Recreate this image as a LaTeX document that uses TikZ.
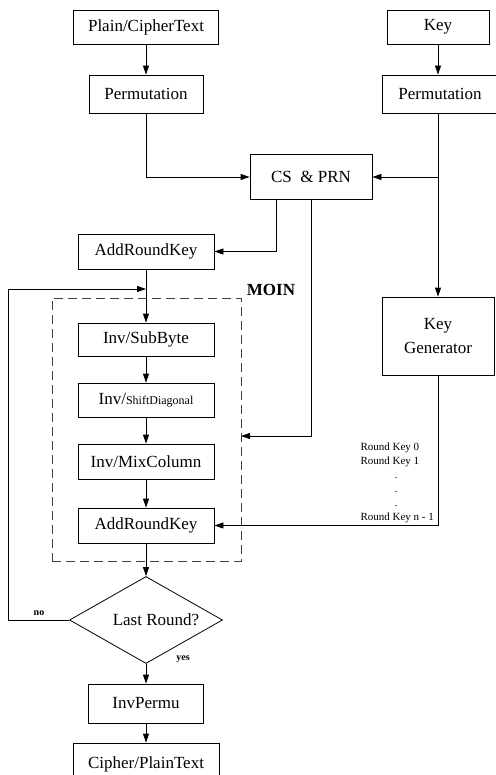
\documentclass[tikz,border=0pt]{standalone}
\usepackage{fontspec}
\setmainfont{Liberation Serif}
\usetikzlibrary{arrows.meta,shapes.geometric}
\begin{document}
\begin{tikzpicture}[x=1pt,y=-1pt,
  box/.style={draw, line width=0.8pt, inner sep=0pt, font=\fontsize{17}{20}\selectfont},
  arr/.style={line width=0.8pt, -{Triangle[length=9pt,width=6pt]}},
  small/.style={font=\fontsize{11}{14}\selectfont},
  tiny/.style={font=\fontsize{10}{12}\selectfont\bfseries},
  dbox/.style={draw=black!75, line width=0.8pt, dash pattern=on 9pt off 5pt, inner sep=0pt}]
\useasboundingbox (0,0) rectangle (495,775);
% boxes
\node[box, minimum width=145pt, minimum height=34pt] (pt) at (146,27) {Plain/CipherText};
\node[box, minimum width=102pt, minimum height=34pt] (key) at (438,27) {Key};
\node[box, minimum width=114pt, minimum height=38pt] (perm1) at (146,94) {Permutation};
\node[box, minimum width=116pt, minimum height=38pt] (perm2) at (440,94) {Permutation};
\node[box, minimum width=122pt, minimum height=45pt] (cs) at (311,177) {CS~~\&~PRN};
\node[box, minimum width=112pt, minimum height=78pt, align=center, font=\fontsize{17}{24}\selectfont] (keygen) at (438,336) {Key\\Generator};
\node[box, minimum width=136pt, minimum height=35pt] (ark1) at (146,251.5) {AddRoundKey};
\node[dbox, minimum width=189pt, minimum height=263pt] (moin) at (146.5,429.5) {};
\node[font=\fontsize{17}{20}\selectfont\bfseries] (moinlbl) at (271,290) {MOIN};
\node[box, minimum width=136pt, minimum height=33pt] (sub) at (146,339.5) {Inv/SubByte};
\node[box, minimum width=136pt, minimum height=34pt] (shift) at (146,400) {Inv/{\fontsize{12}{14}\selectfont ShiftDiagonal}};
\node[box, minimum width=136pt, minimum height=35pt] (mix) at (146,461.5) {Inv/MixColumn};
\node[box, minimum width=136pt, minimum height=35pt] (ark2) at (146,525.5) {AddRoundKey};
\node[box, shape=diamond, minimum width=153pt, minimum height=87pt, aspect=1.76] (dia) at (146,620) {\hspace*{20pt}Last Round?};
\node[box, minimum width=115pt, minimum height=39pt] (invp) at (146,703.5) {InvPermu};
\node[box, minimum width=146pt, minimum height=42pt] (cipher) at (146,764) {Cipher/PlainText};
% labels
\node[tiny] (no) at (39,613) {no};
\node[tiny] (yes) at (183,659) {yes};
\node[small, align=left, anchor=west] (rk) at (357,483) {Round Key 0\\Round Key 1\\\hspace*{34pt}.\\\hspace*{34pt}.\\\hspace*{34pt}.\\Round Key n - 1};
% coordinates
\coordinate (m1) at (241,436);
\coordinate (fb) at (146,289);
% connectors
\draw[arr] (pt.south) -- (perm1.north);
\draw[arr] (key.south) -- (perm2.north -| key.south);
\draw[arr] (perm1.south) |- (cs.west);
\draw[arr] (perm2.south -| key.south) -- (keygen.north);
\draw[arr] (cs.east -| keygen.north) -- (cs.east);
\draw[arr] ([xshift=-35pt]cs.south) |- (ark1.east);
\draw[arr] (cs.south) |- (m1);
\draw[arr] (ark1.south) -- (sub.north);
\draw[arr] (dia.west) -- ++(-61,0) |- (fb);
\draw[arr] (sub.south) -- (shift.north);
\draw[arr] (shift.south) -- (mix.north);
\draw[arr] (mix.south) -- (ark2.north);
\draw[arr] (ark2.south) -- (dia.north);
\draw[arr] (keygen.south) |- (ark2.east);
\draw[arr] (dia.south) -- (invp.north);
\draw[arr] (invp.south) -- (cipher.north);
\end{tikzpicture}
\end{document}
